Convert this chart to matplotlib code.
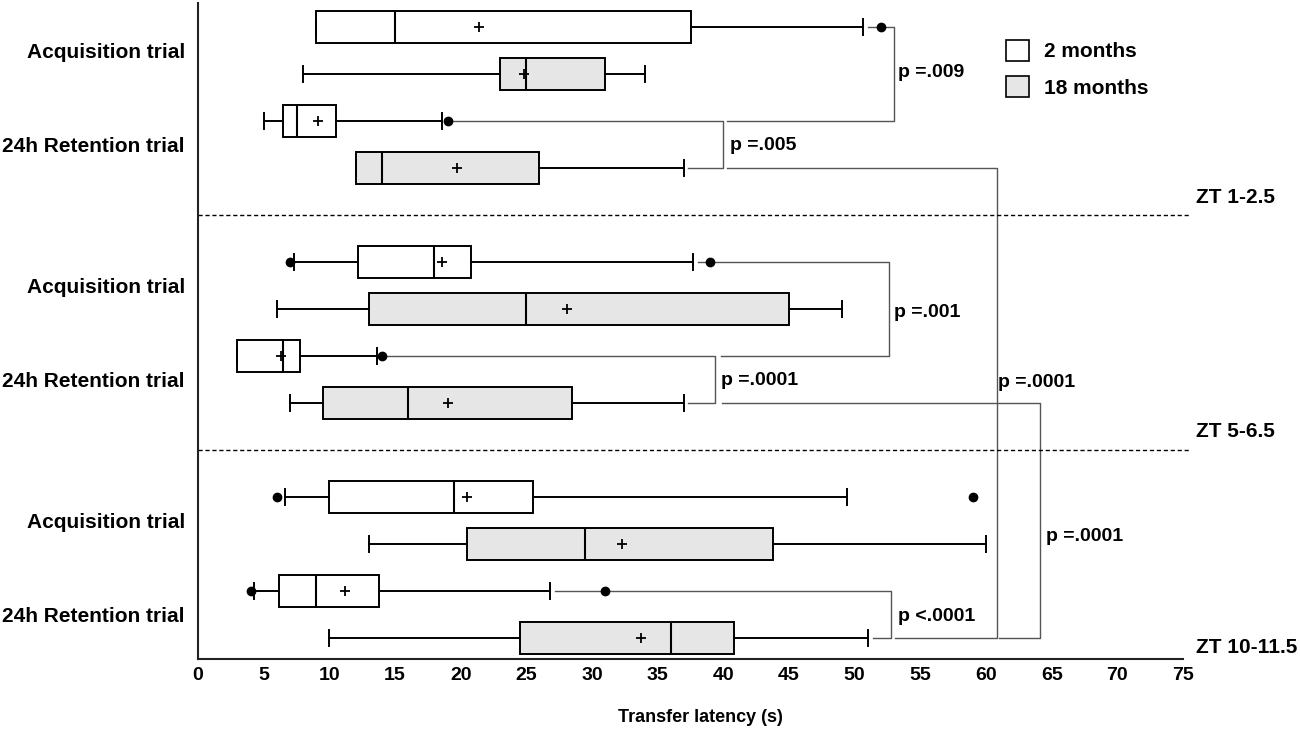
import matplotlib
matplotlib.use("Agg")
import matplotlib.pyplot as plt
from matplotlib.patches import Patch

plt.rcParams['font.family'] = ['Liberation Sans', 'DejaVu Sans']
plt.rcParams['font.weight'] = 'bold'

# ---- data (top to bottom) ----
positions = [0, 1, 2, 3, 5, 6, 7, 8, 10, 11, 12, 13]
groups = ['2 months', '18 months'] * 6
q1 = [9.0, 23.0, 6.5, 12.0, 12.2, 13.0, 3.0, 9.5, 10.0, 20.5, 6.2, 24.5]
med = [15.0, 25.0, 7.5, 14.0, 18.0, 25.0, 6.5, 16.0, 19.5, 29.5, 9.0, 36.0]
q3 = [37.5, 31.0, 10.5, 26.0, 20.8, 45.0, 7.75, 28.5, 25.5, 43.8, 13.75, 40.8]
whislo = [9.0, 8.0, 5.0, 12.0, 7.3, 6.0, 3.0, 7.0, 6.6, 13.0, 4.3, 10.0]
whishi = [50.6, 34.0, 18.6, 37.0, 37.7, 49.0, 13.6, 37.0, 49.4, 60.0, 26.8, 51.0]
means = [21.4, 24.8, 9.1, 19.7, 18.6, 28.1, 6.3, 19.0, 20.5, 32.3, 11.2, 33.7]
fliers = [[52.0], [], [19.0], [], [7.0, 39.0], [], [14.0], [], [6.0, 59.0], [], [4.0, 31.0], []]

ytick_pos = [0.5, 2.5, 5.5, 7.5, 10.5, 12.5]
ytick_labels = ['Acquisition trial', '24h Retention trial'] * 3
xticks = list(range(0, 80, 5))
separators = [4, 9]
zt_labels = ['ZT 1-2.5', 'ZT 5-6.5', 'ZT 10-11.5']
zt_y = [3.64, 8.62, 13.2]

# brackets: (x_top_start, y_top, x_vertical, y_bottom, x_bottom_end)
brackets = [
    (51.0, 0, 53.0, 2, 40.3),
    (19.4, 2, 40.0, 3, 37.3),
    (40.3, 3, 60.8, 13, 53.1),
    (38.1, 5, 52.6, 7, 39.8),
    (13.9, 7, 39.4, 8, 37.3),
    (39.9, 8, 64.1, 13, 61.0),
    (27.2, 12, 52.8, 13, 51.4),
]
p_labels = ['p =.009', 'p =.005', 'p =.0001', 'p =.001', 'p =.0001', 'p =.0001', 'p <.0001']
p_label_xy = [(53.3, 0.98), (40.5, 2.53), (60.9, 7.57), (53.0, 6.09), (39.8, 7.53), (64.6, 10.85), (53.3, 12.55)]

colors = {'2 months': 'white', '18 months': '#e6e6e6'}

fig = plt.figure(figsize=(13, 7.33), dpi=100)
ax = fig.add_axes([198/1300, 1-659/733, 985/1300, 656/733])

stats = []
for i in range(len(positions)):
    stats.append(dict(med=med[i], q1=q1[i], q3=q3[i], whislo=whislo[i],
                      whishi=whishi[i], mean=means[i], fliers=fliers[i]))

common = dict(positions=positions, widths=0.68, showmeans=True, patch_artist=True,
              boxprops=dict(edgecolor='black', linewidth=1.4),
              medianprops=dict(color='black', linewidth=1.5),
              whiskerprops=dict(color='black', linewidth=1.4),
              capprops=dict(color='black', linewidth=1.4),
              meanprops=dict(marker='+', markeredgecolor='black', markersize=7, markeredgewidth=1.3),
              flierprops=dict(marker='o', markerfacecolor='black', markeredgecolor='black', markersize=6))
try:
    bp = ax.bxp(stats, orientation='horizontal', **common)
except TypeError:
    bp = ax.bxp(stats, vert=False, **common)
for patch, g in zip(bp['boxes'], groups):
    patch.set_facecolor(colors[g])

# brackets
for (xs, yt, xv, yb, xe) in brackets:
    ax.plot([xs, xv, xv, xe], [yt, yt, yb, yb], color='#555555', lw=1.0, zorder=1, clip_on=False)
for lab, (lx, ly) in zip(p_labels, p_label_xy):
    ax.text(lx, ly, lab, fontsize=14, fontweight='bold', ha='left', va='center')

# separators
for s in separators:
    ax.plot([0, 75.5], [s, s], color='black', lw=1.0, ls=(0, (3, 2)), clip_on=False)
for lab, y in zip(zt_labels, zt_y):
    ax.text(76.0, y, lab, fontsize=15, fontweight='bold', ha='left', va='center', clip_on=False)

ax.set_xlim(0, 75)
ax.set_ylim(13.45, -0.5)
ax.set_xticks(xticks)
ax.set_xticklabels([str(t) for t in xticks], fontsize=14, fontweight='bold')
ax.set_yticks(ytick_pos)
ax.set_yticklabels(ytick_labels, fontsize=15, fontweight='bold')
ax.tick_params(axis='x', length=0, pad=6)
ax.tick_params(axis='y', length=0, pad=9.5)
ax.set_xlabel('Transfer latency (s)', fontsize=13, fontweight='bold')
ax.xaxis.set_label_coords(0.51, -0.076)
for sp in ['top', 'right']:
    ax.spines[sp].set_visible(False)
for sp in ['left', 'bottom']:
    ax.spines[sp].set_linewidth(1.5)
    ax.spines[sp].set_color('#222222')

handles = [Patch(facecolor=colors[g], edgecolor='black', linewidth=1.2) for g in ['2 months', '18 months']]
fig.legend(handles, ['2 months', '18 months'], loc='upper left',
           bbox_to_anchor=(1006/1300, 1-40/733), frameon=False,
           handlelength=1.1, handleheight=1.15, handletextpad=0.7, labelspacing=0.72,
           borderpad=0, borderaxespad=0, prop=dict(weight='bold', size=15))

fig.savefig('out.png', dpi=100)
